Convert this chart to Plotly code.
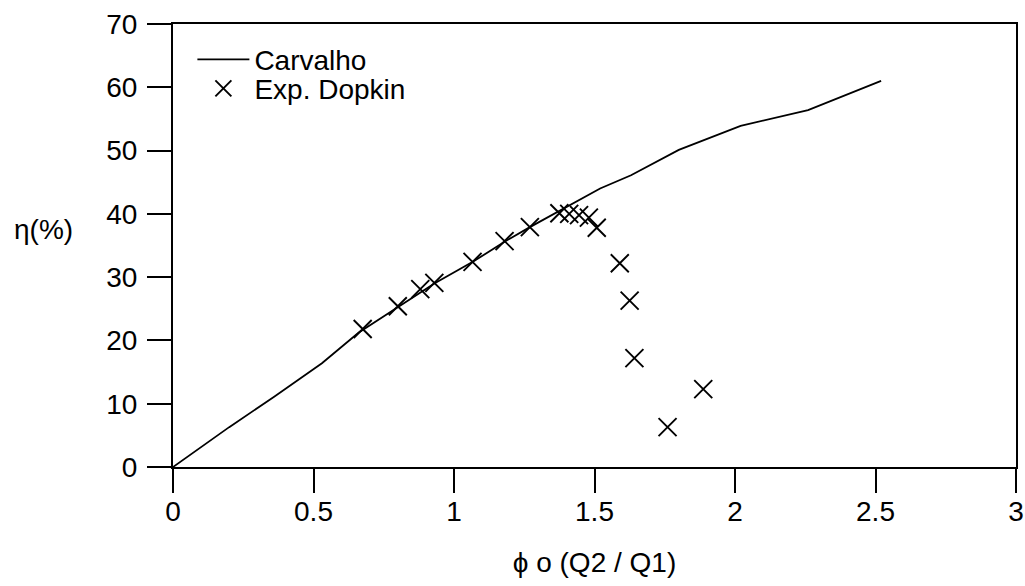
import plotly.graph_objects as go

# Carvalho (theory) curve
carvalho_x = [0, 0.2, 0.36, 0.53, 0.66, 0.8, 0.93, 1.07, 1.18, 1.27, 1.40, 1.52, 1.63, 1.8, 2.02, 2.26, 2.52]
carvalho_y = [0, 6.3, 11.1, 16.4, 21.2, 25.3, 29.0, 32.5, 35.6, 37.9, 41.1, 44.0, 46.1, 50.1, 53.9, 56.4, 61.0]

# Experimental points (Dopkin)
dopkin_x = [0.675, 0.80, 0.88, 0.93, 1.066, 1.18, 1.27, 1.375, 1.41, 1.445, 1.48, 1.508, 1.59, 1.625, 1.642, 1.76, 1.887]
dopkin_y = [21.8, 25.4, 28.1, 29.1, 32.4, 35.7, 37.9, 40.1, 40.0, 39.8, 39.4, 37.8, 32.2, 26.3, 17.2, 6.3, 12.3]

x_ticks = [0, 0.5, 1, 1.5, 2, 2.5, 3]
x_ticklabels = ["0", "0.5", "1", "1.5", "2", "2.5", "3"]
y_ticks = [0, 10, 20, 30, 40, 50, 60, 70]

FONT = "Arial, Liberation Sans, sans-serif"
legend_font = dict(family=FONT, size=28, color="black")

fig = go.Figure()
fig.add_trace(go.Scatter(
    x=carvalho_x, y=carvalho_y, mode="lines", name="Carvalho",
    line=dict(color="black", width=1.8), legend="legend",
))
fig.add_trace(go.Scatter(
    x=dopkin_x, y=dopkin_y, mode="markers", name="Exp. Dopkin",
    marker=dict(symbol="x-thin", size=18, color="black",
                line=dict(color="black", width=1.9)),
    legend="legend2",
))

axis_common = dict(
    showgrid=False, zeroline=False, showline=True, linecolor="black",
    linewidth=2, mirror=True, ticks="outside", ticklen=24, tickwidth=2,
    tickcolor="black", tickfont=dict(family=FONT, size=28, color="black"),
    automargin=False,
)

fig.update_xaxes(
    range=[0, 3], tickvals=x_ticks, ticktext=x_ticklabels,
    ticklabelstandoff=-6,
    title=dict(text="ϕ o (Q2 / Q1)", font=dict(family=FONT, size=28, color="black"), standoff=27),
    **axis_common,
)
fig.update_yaxes(
    range=[0, 70], tickvals=y_ticks, ticklabelstandoff=4,
    **axis_common,
)

fig.add_annotation(
    text="η(%)", xref="paper", yref="paper", x=0, y=0.535,
    xanchor="right", yanchor="middle", xshift=-98, showarrow=False,
    font=dict(family=FONT, size=28, color="black"),
)

fig.update_layout(
    width=1025, height=586,
    margin=dict(l=173, r=9, t=24, b=119, autoexpand=False),
    paper_bgcolor="white", plot_bgcolor="white",
    font=dict(family=FONT, size=28, color="black"),
    legend=dict(
        x=0.023, y=0.976, xanchor="left", yanchor="top",
        bgcolor="rgba(0,0,0,0)", borderwidth=0,
        font=legend_font, itemwidth=52,
    ),
    legend2=dict(
        x=0.023, y=0.9106, xanchor="left", yanchor="top",
        bgcolor="rgba(0,0,0,0)", borderwidth=0,
        font=legend_font, itemwidth=52,
    ),
    showlegend=True,
)

fig.write_html(
    "out.html",
    config={"displayModeBar": False},
    post_script="document.body.style.margin='0';document.body.style.overflow='hidden';",
)
